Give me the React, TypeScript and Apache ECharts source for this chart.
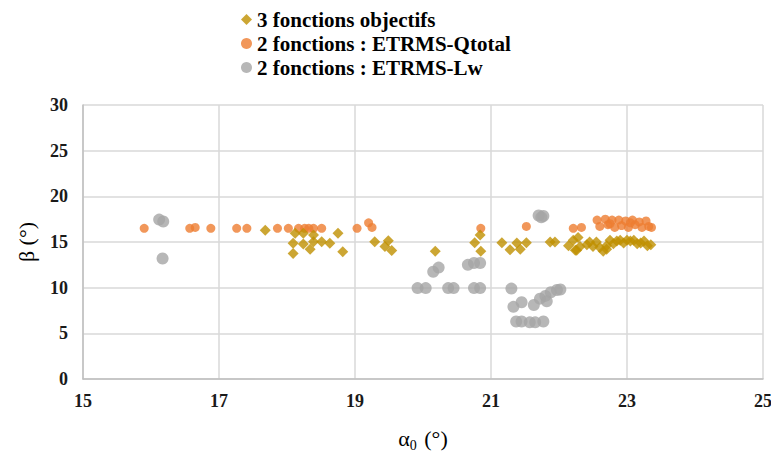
import React, { useEffect, useRef } from "react";
import * as echarts from "echarts";

const xTicks = [15, 17, 19, 21, 23, 25];
const yTicks = [0, 5, 10, 15, 20, 25, 30];

const seriesNames = ["3 fonctions objectifs", "2 fonctions : ETRMS-Qtotal", "2 fonctions : ETRMS-Lw"];

const objX = [17.68, 18.09, 18.09, 18.12, 18.24, 18.24, 18.34, 18.39, 18.39, 18.51, 18.63, 18.75, 18.82, 19.29, 19.44, 19.49, 19.54, 20.18, 20.76, 20.84, 20.85, 21.16, 21.28, 21.38, 21.43, 21.52, 21.87, 21.94, 22.14, 22.24,
  22.21, 22.28, 22.31, 22.26, 22.41, 22.5, 22.55, 22.6, 22.65, 22.7, 22.75, 22.8, 22.85, 22.9, 22.95, 23.0, 23.05, 23.1, 23.15, 23.2, 23.25, 23.3, 23.35, 22.45, 22.7];
const objY = [16.3, 13.75, 14.85, 15.95, 15.95, 14.78, 14.2, 15.77, 15.04, 15.04, 14.85, 15.95, 13.94, 15.04, 14.5, 15.15, 14.06, 14.0, 14.93, 15.77, 14.0, 14.93, 14.15, 14.9, 14.2, 14.93, 15.0, 15.0, 14.6, 14.1,
  15.2, 15.5, 14.5, 14.1, 14.7, 14.5, 15.0, 14.4, 14.0, 14.2, 15.2, 14.8, 15.1, 15.2, 14.9, 15.2, 15.1, 15.2, 14.8, 14.9, 15.1, 14.6, 14.7, 15.0, 14.6];

const qtotX = [15.9, 16.57, 16.65, 16.88, 17.26, 17.41, 17.86, 18.02, 18.17, 18.26, 18.32, 18.39, 18.51, 19.03, 19.2, 19.25, 20.85, 21.52, 22.21, 22.33,
  22.56, 22.6, 22.68, 22.72, 22.78, 22.82, 22.88, 22.92, 22.98, 23.02, 23.08, 23.12, 23.18, 23.22, 23.28, 23.32, 23.36, 22.75, 23.05];
const qtotY = [16.5, 16.5, 16.6, 16.5, 16.5, 16.5, 16.5, 16.5, 16.5, 16.5, 16.5, 16.5, 16.5, 16.5, 17.1, 16.6, 16.5, 16.7, 16.5, 16.6,
  17.4, 16.7, 17.5, 16.9, 17.4, 16.6, 17.4, 16.8, 17.3, 16.6, 17.4, 16.9, 17.2, 16.6, 17.3, 16.7, 16.6, 17.0, 17.1];

const lwX = [16.12, 16.18, 16.17, 19.92, 20.04, 20.15, 20.23, 20.37, 20.45, 20.66, 20.75, 20.84, 20.75, 20.84,
  21.3, 21.33, 21.45, 21.37, 21.45, 21.57, 21.65, 21.77, 21.63, 21.72, 21.8, 21.88, 21.97, 22.02, 21.82, 21.7, 21.77, 21.74];
const lwY = [17.45, 17.25, 13.2, 9.95, 9.95, 11.75, 12.2, 9.95, 9.95, 12.5, 12.7, 12.7, 9.95, 9.95,
  9.9, 7.9, 8.4, 6.3, 6.3, 6.2, 6.2, 6.3, 8.1, 8.8, 9.1, 9.5, 9.75, 9.8, 8.5, 17.9, 17.85, 17.7];

const colors = ["#BF9000", "#ED7D31", "#A5A5A5"];
const FONT = "'Liberation Serif', 'DejaVu Serif', serif";

const zip = (xs: number[], ys: number[]) => xs.map((x, i) => [x, ys[i]]);

export default function App() {
  const ref = useRef<HTMLDivElement>(null);
  useEffect(() => {
    if (!ref.current) return;
    const chart = echarts.init(ref.current, null, { renderer: "svg" });
    chart.setOption({
      animation: false,
      backgroundColor: "#ffffff",
      textStyle: { fontFamily: FONT },
      legend: {
        orient: "vertical",
        left: 236,
        top: 4,
        itemWidth: 11,
        itemHeight: 11,
        itemGap: 3,
        textStyle: { fontFamily: FONT, fontSize: 21, fontWeight: "bold", color: "#000" },
        data: [
          { name: seriesNames[0], icon: "diamond" },
          { name: seriesNames[1], icon: "circle" },
          { name: seriesNames[2], icon: "circle" },
        ],
      },
      grid: { left: 83, right: 8, top: 105, bottom: 76, outerBoundsMode: "none" },
      xAxis: {
        type: "value",
        min: xTicks[0],
        max: xTicks[xTicks.length - 1],
        interval: 2,
        name: "{a|α}{s|0}{a| (°)}",
        nameLocation: "middle",
        nameGap: 46,
        nameTextStyle: {
          rich: {
            a: { fontFamily: FONT, fontSize: 22, color: "#000", lineHeight: 24, verticalAlign: "bottom" },
            s: { fontFamily: FONT, fontSize: 14, color: "#000", lineHeight: 24, verticalAlign: "bottom", padding: [0, 2, -3, 0] },
          },
        },
        axisLine: { show: true, lineStyle: { color: "#BFBFBF", width: 1.5 } },
        axisTick: { show: false },
        axisLabel: { fontFamily: FONT, fontSize: 18, fontWeight: "bold", color: "#1a1a1a", margin: 13 },
        splitLine: { show: true, lineStyle: { color: "#D9D9D9", width: 1.5 } },
      },
      yAxis: {
        type: "value",
        min: yTicks[0],
        max: yTicks[yTicks.length - 1],
        interval: 5,
        name: "β (°)",
        nameLocation: "middle",
        nameGap: 46,
        nameTextStyle: { fontFamily: FONT, fontSize: 22, color: "#000" },
        axisLine: { show: true, lineStyle: { color: "#BFBFBF", width: 1.5 } },
        axisTick: { show: false },
        axisLabel: { fontFamily: FONT, fontSize: 18, fontWeight: "bold", color: "#1a1a1a", margin: 15 },
        splitLine: { show: true, lineStyle: { color: "#D9D9D9", width: 1.5 } },
      },
      series: [
        {
          name: seriesNames[0],
          type: "scatter",
          symbol: "diamond",
          symbolSize: 11,
          itemStyle: { color: colors[0] },
          data: zip(objX, objY),
          z: 3,
        },
        {
          name: seriesNames[1],
          type: "scatter",
          symbol: "circle",
          symbolSize: 9,
          itemStyle: { color: colors[1] },
          data: zip(qtotX, qtotY),
          z: 2,
        },
        {
          name: seriesNames[2],
          type: "scatter",
          symbol: "circle",
          symbolSize: 12,
          itemStyle: { color: colors[2] },
          data: zip(lwX, lwY),
          z: 2,
        },
      ],
    });
    return () => chart.dispose();
  }, []);
  return <div ref={ref} style={{ position: "fixed", left: 0, top: 0, width: 771, height: 455 }} />;
}
